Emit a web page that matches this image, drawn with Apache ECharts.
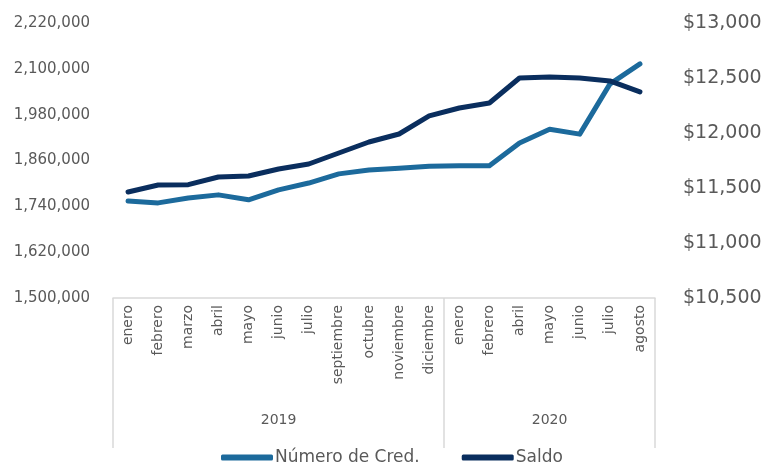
<!DOCTYPE html>
<html><head><meta charset="utf-8">
<script src="https://cdn.jsdelivr.net/npm/echarts@6/dist/echarts.min.js"></script>
<style>html,body{margin:0;padding:0;background:#fff}#c{width:773px;height:474px}</style>
</head><body><div id="c"></div>
<script>
var months2019 = ['enero','febrero','marzo','abril','mayo','junio','julio','septiembre','octubre','noviembre','diciembre'];
var months2020 = ['enero','febrero','abril','mayo','junio','julio','agosto'];
var years = ['2019','2020'];
var numeroCred = [1754000,1749000,1762000,1770000,1757000,1783000,1801000,1825000,1835000,1840000,1845000,1846000,1846000,1906000,1942000,1929000,2060000,2113000];
var saldo = [11464,11527,11530,11600,11609,11673,11718,11818,11918,11991,12155,12227,12273,12500,12509,12500,12473,12373];
var leftTicks = {min:1500000, max:2220000, step:120000};
var rightTicks = {min:10500, max:13000, step:500};

var categories = months2019.concat(months2020);
var yearOf = months2019.map(function(){return years[0];}).concat(months2020.map(function(){return years[1];}));
var mid2019 = Math.floor((months2019.length-1)/2);
var mid2020 = months2019.length + Math.floor((months2020.length-1)/2);

var txt = '#595959';
var font = 'DejaVu Sans';
var cLight = '#1c6a9c', cDark = '#0a2e5e';
function fmt(v){return v.toString().replace(/\B(?=(\d{3})+(?!\d))/g, ',');}

var chart = echarts.init(document.getElementById('c'));
chart.setOption({
  animation:false,
  textStyle:{fontFamily:font},
  grid:{left:113, right:118, top:23, bottom:176, containLabel:false},
  legend:{
    bottom:3, left:216, itemWidth:52, itemHeight:6, itemGap:42, icon:'roundRect',
    textStyle:{color:txt, fontSize:17, fontFamily:font, padding:[0,0,0,-3]},
    data:['Número de Cred.','Saldo']
  },
  xAxis:[{
    type:'category', data:categories, boundaryGap:true,
    axisLine:{show:true, lineStyle:{color:'#d9d9d9', width:1.5}},
    axisTick:{show:true, length:150, lineStyle:{color:'#d9d9d9', width:1.5},
      interval:function(i){return i===0 || i===months2019.length;}},
    axisLabel:{interval:0, rotate:90, color:txt, fontSize:14, fontFamily:font, margin:7}
  },{
    type:'category', data:categories, position:'bottom', offset:107, boundaryGap:true,
    axisLine:{show:false}, axisTick:{show:false},
    axisLabel:{interval:function(i){return i===mid2019 || i===mid2020;},
      formatter:function(v,i){return yearOf[i];}, color:txt, fontSize:14, fontFamily:font}
  }],
  yAxis:[{
    type:'value', min:leftTicks.min, max:leftTicks.max, interval:leftTicks.step,
    axisLine:{show:false}, axisTick:{show:false}, splitLine:{show:false},
    axisLabel:{color:txt, fontSize:15, fontFamily:font, margin:23, align:'right', formatter:fmt}
  },{
    type:'value', min:rightTicks.min, max:rightTicks.max, interval:rightTicks.step, position:'right',
    axisLine:{show:false}, axisTick:{show:false}, splitLine:{show:false},
    axisLabel:{color:txt, fontSize:19, fontFamily:font, margin:28, formatter:function(v){return '$'+fmt(v);}}
  }],
  series:[{
    name:'Número de Cred.', type:'line', yAxisIndex:0, data:numeroCred, symbol:'none',
    lineStyle:{width:5, color:cLight, cap:'round', join:'round'}, itemStyle:{color:cLight}
  },{
    name:'Saldo', type:'line', yAxisIndex:1, data:saldo, symbol:'none',
    lineStyle:{width:5, color:cDark, cap:'round', join:'round'}, itemStyle:{color:cDark}
  }]
});
</script></body></html>
